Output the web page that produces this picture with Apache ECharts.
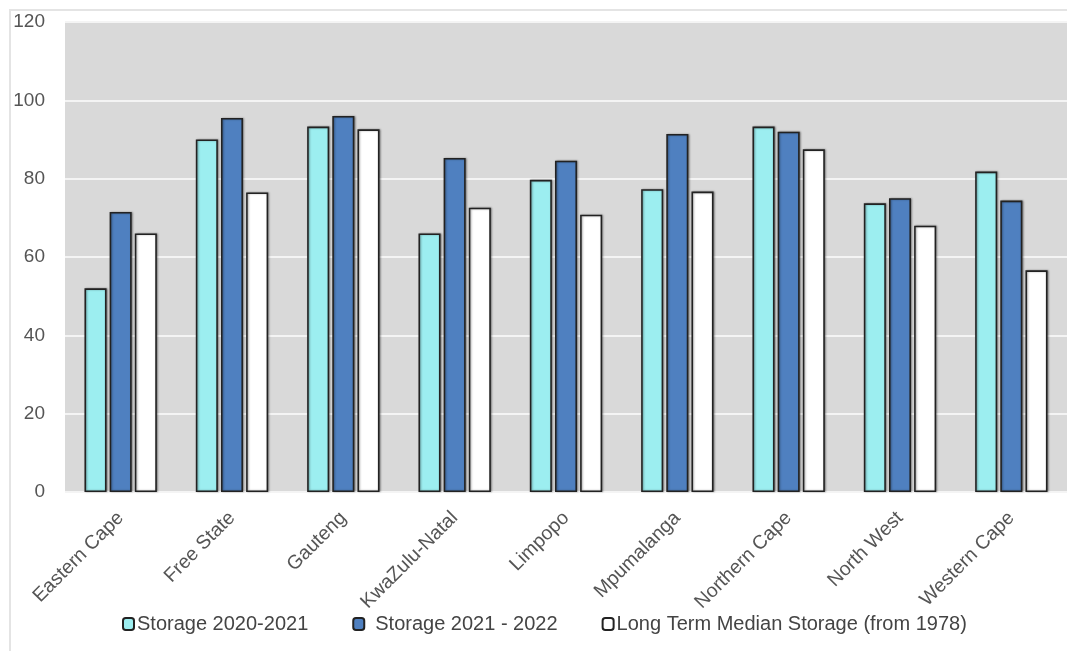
<!DOCTYPE html>
<html>
<head>
<meta charset="utf-8">
<script src="https://cdn.jsdelivr.net/npm/echarts@6/dist/echarts.min.js"></script>
<style>
  html, body { margin: 0; padding: 0; background: #fff; }
  #chart { width: 1067px; height: 651px; }
</style>
</head>
<body>
<div id="chart"></div>
<script>
var provinces = ['Eastern Cape', 'Free State', 'Gauteng', 'KwaZulu-Natal', 'Limpopo',
    'Mpumalanga', 'Northern Cape', 'North West', 'Western Cape'];
var storage2021 = [52, 90, 93.3, 66, 79.7, 77.3, 93.3, 73.7, 81.8];
var storage2022 = [71.5, 95.5, 96, 85.3, 84.6, 91.4, 92, 75, 74.4];
var longTermMedian = [66, 76.5, 92.6, 72.6, 70.8, 76.7, 87.5, 68, 56.6];
var seriesNames = ['Storage 2020-2021', 'Storage 2021 - 2022', 'Long Term Median Storage (from 1978)'];
var seriesColors = ['#9ceef0', '#4f80c0', '#ffffff'];

var chart = echarts.init(document.getElementById('chart'));

// every bar gets the same dark outline and a little drop shadow
function barSeries(idx, values) {
    return {
        name: seriesNames[idx],
        type: 'bar',
        data: values,
        barGap: '14%',
        barCategoryGap: '35%',
        itemStyle: {
            color: seriesColors[idx],
            borderColor: '#222',
            borderWidth: 1.6,
            shadowColor: 'rgba(0,0,0,0.35)',
            shadowBlur: 2,
            shadowOffsetX: 1,
            shadowOffsetY: 0
        }
    };
}

var option = {
    animation: false,
    textStyle: { fontFamily: 'Liberation Sans' },
    graphic: [{
        type: 'polyline',
        shape: { points: [[10, 651], [10, 10], [1067, 10]] },
        style: { stroke: '#e4e4e4', lineWidth: 2, fill: null }
    }],
    legend: {
        top: 609,
        left: 117,
        itemWidth: 11,
        itemHeight: 12,
        itemGap: 44,
        textStyle: { color: '#444', fontSize: 20, padding: [0, 0, 0, -2] },
        data: [
            { name: seriesNames[0] },
            // this one has a space between the box and its text
            { name: seriesNames[1], textStyle: { padding: [0, 0, 0, 6] } },
            { name: seriesNames[2] }
        ]
    },
    grid: {
        left: 65,
        top: 22,
        bottom: 159,
        width: 1008,
        show: true,
        backgroundColor: '#d9d9d9',
        borderWidth: 0
    },
    xAxis: {
        type: 'category',
        data: provinces,
        axisLine: { show: false },
        axisTick: { show: false },
        axisLabel: {
            rotate: 45,
            margin: 23,
            color: '#555',
            fontSize: 19.5,
            interval: 0
        }
    },
    yAxis: {
        type: 'value',
        min: 0,
        max: 120,
        interval: 20,
        axisLine: { show: false },
        axisTick: { show: false },
        axisLabel: { color: '#555', fontSize: 19, margin: 20 },
        splitLine: { lineStyle: { color: '#f4f4f4', width: 2 } }
    },
    series: [
        barSeries(0, storage2021),
        barSeries(1, storage2022),
        barSeries(2, longTermMedian)
    ]
};

chart.setOption(option);
</script>
</body>
</html>
